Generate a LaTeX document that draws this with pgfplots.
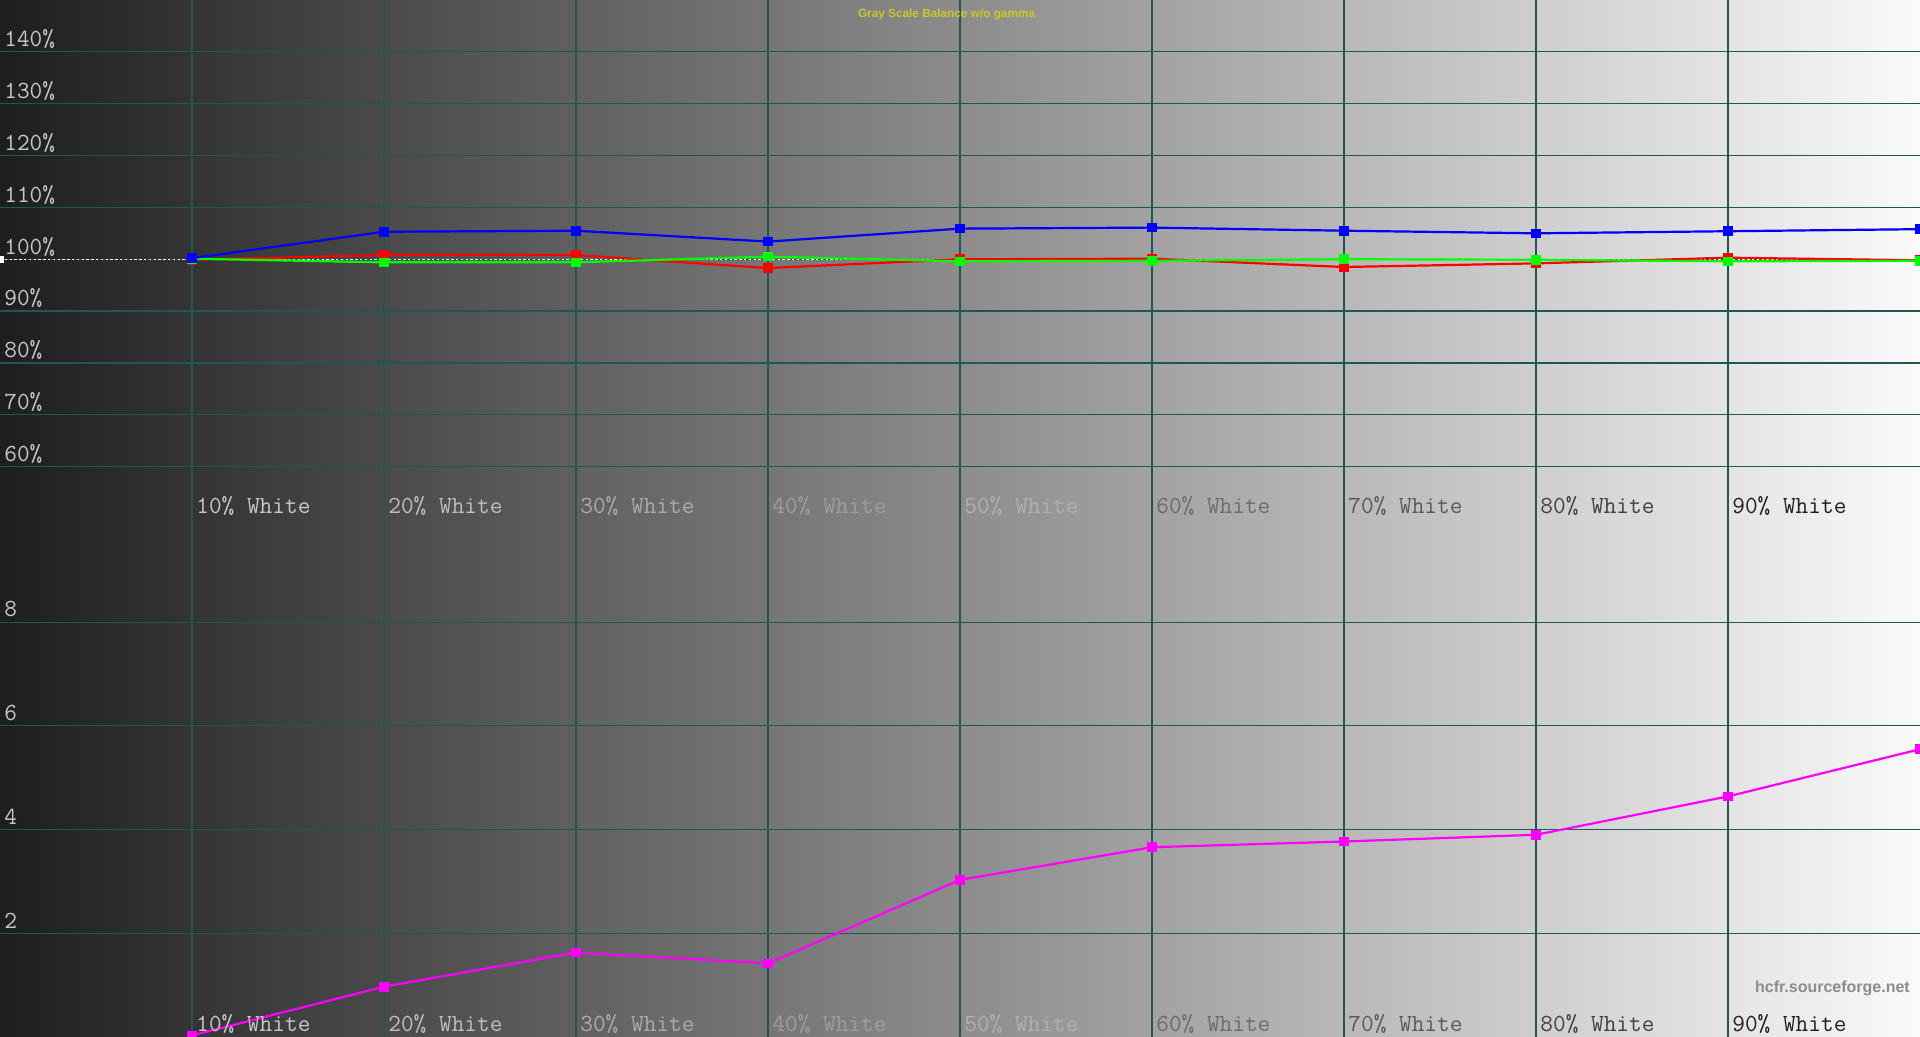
\documentclass[border=0pt]{standalone}
\usepackage{fontspec}
\setmainfont{Liberation Sans}
\usepackage{graphicx}
\usepackage{pgfplots}
\pgfplotsset{compat=1.18}

\definecolor{gridc}{RGB}{35,85,85}
\definecolor{bgl}{RGB}{30,30,30}
\definecolor{bgr}{RGB}{250,250,250}
\definecolor{titc}{RGB}{205,200,35}
\definecolor{labc}{RGB}{200,200,200}
\definecolor{wmc}{RGB}{140,140,140}
\definecolor{cred}{RGB}{255,0,0}
\definecolor{cgreen}{RGB}{0,255,0}
\definecolor{cblue}{RGB}{0,0,255}
\definecolor{cmag}{RGB}{255,0,255}

\newcommand\labfont{\ttfamily\fontsize{12.3}{14}\selectfont}
\newcommand\titfont{\fontsize{5.9}{7}\selectfont\bfseries}
\newcommand\wmfont{\fontsize{8}{9}\selectfont\bfseries}

\newcommand\xl[3]{\node[anchor=base west, inner sep=0pt, text=#3, font=\labfont, xshift=2pt, yshift=2.6pt] at (axis cs:#1,#2) {#10\% White};}
\newcommand\yl[2]{\node[anchor=base west, inner sep=0pt, text=labc, font=\labfont, xshift=2pt, yshift=2.6pt] at (axis cs:0,#1) {#2};}

\pgfplotsset{
  hcfr/.style={
    width=960pt, height=259.25pt, scale only axis,
    xmin=0, xmax=10, xtick={1,...,9},
    grid=major, grid style={gridc, line width=0.6pt},
    axis line style={draw=none}, major tick length=0pt,
    xticklabels={}, yticklabels={},
    axis background/.style={left color=bgl, right color=bgr},
  },
  curve/.style={line width=1.1pt, mark=square*, mark size=1.85pt, mark options={solid}},
  refline/.style={white, line width=0.5pt, dash pattern=on 1.2pt off 1.2pt, mark=square*, mark indices={1}, mark size=1.6pt, mark options={solid, fill=white}},
}

\begin{document}
\begin{tikzpicture}
\begin{axis}[hcfr, at={(0pt,259.25pt)}, anchor=south west, ymin=50, ymax=150, ytick={60,70,...,140}]
  \addplot[refline] coordinates {(0,100) (10,100)};
  \addplot[curve, color=cred] coordinates {(1,99.9)(2,100.8)(3,100.8)(4,98.3)(5,100.0)(6,100.1)(7,98.5)(8,99.2)(9,100.3)(10,99.8)};
  \addplot[curve, color=cgreen] coordinates {(1,100.1)(2,99.4)(3,99.4)(4,100.5)(5,99.6)(6,99.7)(7,100.0)(8,99.9)(9,99.6)(10,99.7)};
  \addplot[curve, color=cblue] coordinates {(1,100.2)(2,105.3)(3,105.5)(4,103.4)(5,105.9)(6,106.1)(7,105.5)(8,105.0)(9,105.4)(10,105.8)};
  \yl{140}{140\%}\yl{130}{130\%}\yl{120}{120\%}\yl{110}{110\%}\yl{100}{100\%}
  \yl{90}{90\%}\yl{80}{80\%}\yl{70}{70\%}\yl{60}{60\%}
  \xl{1}{50}{labc}\xl{2}{50}{labc!95!black}\xl{3}{50}{black!33}
  \xl{4}{50}{black!38}\xl{5}{50}{black!31}\xl{6}{50}{black!58}
  \xl{7}{50}{black!65}\xl{8}{50}{black!75}\xl{9}{50}{black!88}
  \node[font=\titfont, text=titc, inner sep=0pt] at (rel axis cs:0.493,0.972) {Gray Scale Balance w/o gamma};
\end{axis}
\begin{axis}[hcfr, at={(0pt,0pt)}, anchor=south west, ymin=0, ymax=10, ytick={2,4,6,8}]
  \addplot[curve, color=cmag] coordinates {(1,0.03)(2,0.97)(3,1.63)(4,1.42)(5,3.03)(6,3.66)(7,3.77)(8,3.90)(9,4.64)(10,5.55)};
  \yl{8}{8}\yl{6}{6}\yl{4}{4}\yl{2}{2}
  \xl{1}{0}{labc}\xl{2}{0}{labc!95!black}\xl{3}{0}{black!33}
  \xl{4}{0}{black!38}\xl{5}{0}{black!31}\xl{6}{0}{black!58}
  \xl{7}{0}{black!65}\xl{8}{0}{black!75}\xl{9}{0}{black!88}
  \node[anchor=east, inner sep=0pt, font=\wmfont, text=wmc, xshift=-4.9pt] at (axis cs:10,0.94) {hcfr.sourceforge.net};
\end{axis}
\pgfresetboundingbox
\path[use as bounding box] (0pt,0pt) rectangle (960pt,518.5pt);
\end{tikzpicture}
\end{document}
